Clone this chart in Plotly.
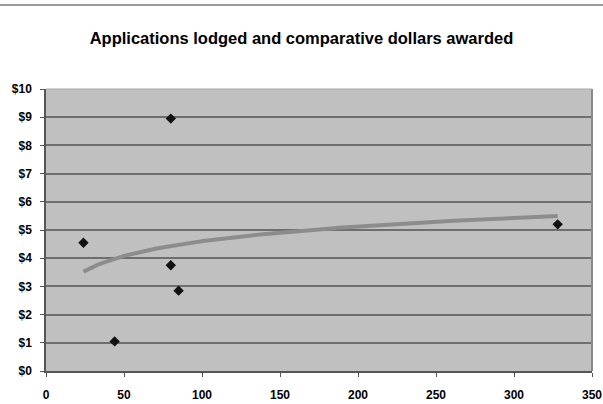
import numpy as np
import plotly.graph_objects as go

# Applications lodged vs. comparative dollars awarded
applications = [24, 44, 80, 80, 85, 328]
dollars = [4.55, 1.05, 8.95, 3.75, 2.85, 5.20]

x_ticks = [0, 50, 100, 150, 200, 250, 300, 350]
y_ticks = list(range(0, 11))
y_tick_text = [f"${v}" for v in y_ticks]

# Logarithmic trend line (least squares on ln x)
lx = np.log(applications)
b, a = np.polyfit(lx, dollars, 1)
trend_x = np.linspace(min(applications), max(applications), 120)
trend_y = a + b * np.log(trend_x)

fig = go.Figure()
fig.add_trace(go.Scatter(
    x=trend_x, y=trend_y, mode="lines",
    line=dict(color="#8c8c8c", width=4),
    hoverinfo="skip", showlegend=False,
))
fig.add_trace(go.Scatter(
    x=applications, y=dollars, mode="markers",
    marker=dict(symbol="diamond", size=8, color="#111111"),
    showlegend=False,
))

fig.update_layout(
    width=603, height=404,
    margin=dict(l=46, r=11, t=89, b=33),
    paper_bgcolor="white",
    plot_bgcolor="#c0c0c0",
    title=dict(
        text="<b>Applications lodged and comparative dollars awarded</b>",
        x=0.5, xanchor="center", y=1 - 38 / 404, yanchor="middle",
        font=dict(family="Liberation Sans, Arial", size=16.5, color="#000000"),
    ),
    font=dict(family="Liberation Sans, Arial", size=12, color="#000000"),
    shapes=[dict(type="line", xref="paper", yref="paper",
                 x0=-46 / 546, x1=557 / 546, y0=1 + 84 / 282, y1=1 + 84 / 282,
                 line=dict(color="#9a9a9a", width=2))],
)

fig.update_xaxes(
    range=[0, 350], tickmode="array", tickvals=x_ticks,
    ticktext=[f"<b>{v}</b>" for v in x_ticks],
    showgrid=False, zeroline=False, automargin=False,
    showline=True, linecolor="#555555", linewidth=1.5, mirror=False,
    ticks="outside", ticklen=4, tickcolor="#555555",
    ticklabelstandoff=8,
)
fig.update_yaxes(
    range=[0, 10], tickmode="array", tickvals=y_ticks,
    ticktext=[f"<b>{t}</b>" for t in y_tick_text],
    showgrid=True, gridcolor="#6e6e6e", gridwidth=1.5, zeroline=False,
    automargin=False,
    showline=True, linecolor="#555555", linewidth=1.5,
    ticks="outside", ticklen=4, tickcolor="#555555",
    ticklabelstandoff=6,
)

# right and top edges of the plot area
fig.add_shape(type="line", xref="paper", yref="paper", x0=1, x1=1, y0=0, y1=1,
              line=dict(color="#8a8a8a", width=2))
fig.add_shape(type="line", xref="paper", yref="paper", x0=0, x1=1, y0=1, y1=1,
              line=dict(color="#a8a8a8", width=1))

fig.write_html("out.html")
